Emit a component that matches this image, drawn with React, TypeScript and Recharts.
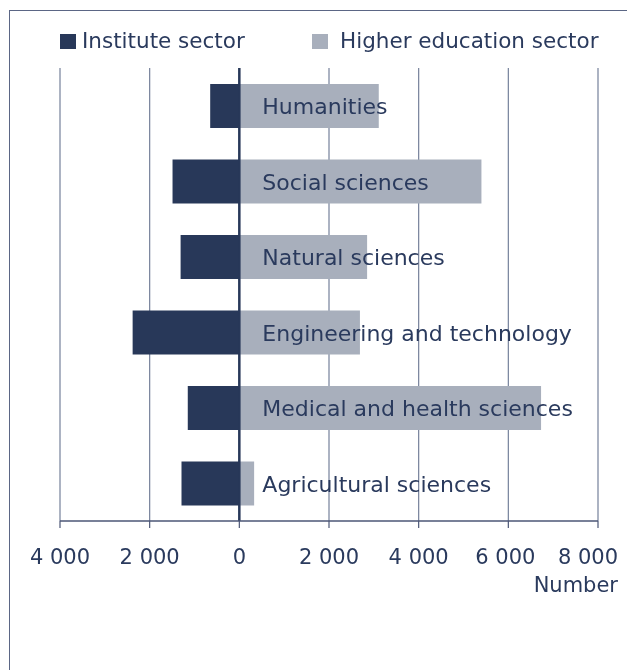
import { BarChart, Bar, XAxis, YAxis, CartesianGrid, ReferenceLine, LabelList } from "recharts";

const fields = [
  "Humanities",
  "Social sciences",
  "Natural sciences",
  "Engineering and technology",
  "Medical and health sciences",
  "Agricultural sciences",
];
const instituteSector = [650, 1490, 1310, 2380, 1150, 1290];
const higherEducationSector = [3110, 5400, 2850, 2690, 6730, 330];
const xTicks = [-4000, -2000, 0, 2000, 4000, 6000, 8000];

const data = fields.map((field, i) => ({
  field,
  institute: -instituteSector[i],
  higher: higherEducationSector[i],
}));

const NAVY = "#283859";
const GREY = "#a8afbc";
const TEXT = "#2a3a5d";
const FONT = "'DejaVu Sans', Verdana, sans-serif";

const fmt = (v: number) => String(Math.abs(v)).replace(/\B(?=(\d{3})+(?!\d))/g, " ");

function Tick(props: any) {
  const { x, y, payload } = props;
  const shift = payload.value === 8000 ? -10 : payload.value === 6000 ? -3 : 0;
  return (
    <text x={x + shift} y={y} dy="0.71em" textAnchor="middle" fontSize={21} fill={TEXT} fontFamily={FONT}>
      {fmt(payload.value)}
    </text>
  );
}

function FieldLabel(props: any) {
  const { x, y, height, value } = props;
  return (
    <text x={x + 23} y={y + height / 2 + 8} fontSize={22} fill={TEXT} fontFamily={FONT}>
      {value}
    </text>
  );
}

export default function App() {
  return (
    <div>
      <div
        style={{
          position: "fixed",
          left: 9,
          top: 10,
          width: 700,
          height: 700,
          borderLeft: "1.5px solid #5b6685",
          borderTop: "1.5px solid #5b6685",
        }}
      />
      <svg width={627} height={60} style={{ position: "fixed", left: 0, top: 0 }}>
        <rect x={60} y={34} width={16} height={15} fill={NAVY} />
        <text x={82} y={48} fontSize={21.5} fill={TEXT} fontFamily={FONT}>
          Institute sector
        </text>
        <rect x={312} y={34} width={16} height={15} fill={GREY} />
        <text x={340} y={48} fontSize={21.5} fill={TEXT} fontFamily={FONT}>
          Higher education sector
        </text>
      </svg>
      <div style={{ position: "fixed", left: 0, top: 0 }}>
        <BarChart
          width={627}
          height={620}
          data={data}
          layout="vertical"
          stackOffset="sign"
          barSize={44}
          margin={{ top: 68, right: 29, bottom: 39, left: 60 }}
        >
          <CartesianGrid horizontal={false} stroke="#75809a" strokeWidth={1.2} />
          <XAxis
            type="number"
            domain={[-4000, 8000]}
            ticks={xTicks}
            interval={0}
            height={60}
            axisLine={{ stroke: "#4b5676", strokeWidth: 1.5 }}
            tickLine={{ stroke: "#4b5676", strokeWidth: 1.2 }}
            tickSize={7}
            tickMargin={21}
            tick={<Tick />}
            label={{
              content: (p: any) => (
                <text
                  x={p.viewBox.x + p.viewBox.width + 20}
                  y={592}
                  textAnchor="end"
                  fontSize={21}
                  fill={TEXT}
                  fontFamily={FONT}
                >
                  Number
                </text>
              ),
            }}
          />
          <XAxis
            xAxisId="top"
            orientation="top"
            type="number"
            domain={[-4000, 8000]}
            height={0}
            tick={false}
            tickLine={false}
            axisLine={{ stroke: "#4b5676", strokeWidth: 1.5 }}
          />
          <YAxis type="category" dataKey="field" hide />
          <Bar dataKey="institute" stackId="a" fill={NAVY} isAnimationActive={false} />
          <Bar dataKey="higher" stackId="a" fill={GREY} isAnimationActive={false}>
            <LabelList dataKey="field" content={<FieldLabel />} />
          </Bar>
          <ReferenceLine x={0} stroke={NAVY} strokeWidth={2.5} />
        </BarChart>
      </div>
    </div>
  );
}
